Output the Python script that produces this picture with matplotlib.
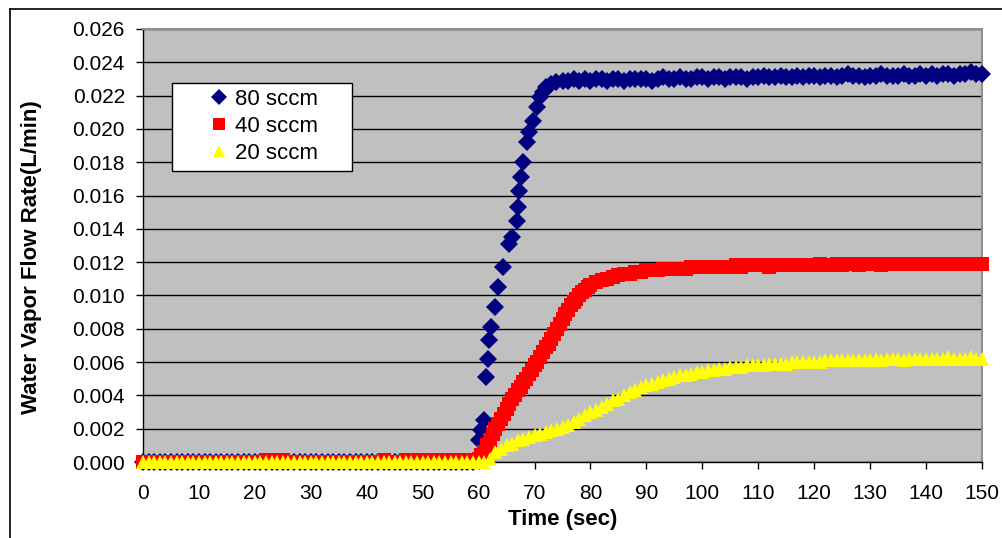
import matplotlib
matplotlib.use("Agg")
import matplotlib.pyplot as plt
from matplotlib.lines import Line2D
from matplotlib.patches import Rectangle
from matplotlib.ticker import MultipleLocator, FormatStrFormatter

plt.rcParams['font.family'] = ['Liberation Sans', 'DejaVu Sans']

# ---------------- data ----------------
labels = ["80 sccm", "40 sccm", "20 sccm"]

t_80 = [0, 1, 2, 3, 4, 5, 6, 7, 8, 9,
        10, 11, 12, 13, 14, 15, 16, 17, 18, 19,
        20, 21, 22, 23, 24, 25, 26, 27, 28, 29,
        30, 31, 32, 33, 34, 35, 36, 37, 38, 39,
        40, 41, 42, 43, 44, 45, 46, 47, 48, 49,
        50, 51, 52, 53, 54, 55, 56, 57, 58, 59,
        60.0, 60.5, 61.0, 61.3, 61.6, 61.8, 62.2, 62.9, 63.4, 64.3,
        65.5, 65.9, 66.8, 67.0, 67.3, 67.6, 67.9, 68.6, 69.1, 69.7,
        70.4, 70.9, 71.5, 72.1, 73.0, 73.9, 75.0, 76.0, 77.0,
        78, 79, 80, 81, 82, 83, 84, 85, 86, 87, 88, 89,
        90, 91, 92, 93, 94, 95, 96, 97, 98, 99,
        100, 101, 102, 103, 104, 105, 106, 107, 108, 109,
        110, 111, 112, 113, 114, 115, 116, 117, 118, 119,
        120, 121, 122, 123, 124, 125, 126, 127, 128, 129,
        130, 131, 132, 133, 134, 135, 136, 137, 138, 139,
        140, 141, 142, 143, 144, 145, 146, 147, 148, 149, 150]
v_80 = [0.0, 0.0, 0.0, 0.0, 0.0, 0.0, 0.0, 0.0, 0.0, 0.0,
        0.0, 0.0, 0.0, 0.0, 0.0, 0.0, 0.0, 0.0, 0.0, 0.0,
        0.0, 0.0, 0.0, 0.0, 0.0, 0.0, 0.0, 0.0, 0.0, 0.0,
        0.0, 0.0, 0.0, 0.0, 0.0, 0.0, 0.0, 0.0, 0.0, 0.0,
        0.0, 0.0, 0.0, 0.0, 0.0, 0.0, 0.0, 0.0, 0.0, 0.0,
        0.0, 0.0, 0.0, 0.0, 0.0, 0.0, 0.0, 0.0, 0.0, 0.0,
        0.0013, 0.0019, 0.0025, 0.0051, 0.0062, 0.0073, 0.0081, 0.0093, 0.0105, 0.0117,
        0.0131, 0.0135, 0.0145, 0.0153, 0.0163, 0.0171, 0.0180, 0.0192, 0.0198, 0.0205,
        0.0213, 0.0219, 0.0222, 0.0225, 0.0227, 0.0228, 0.0229, 0.0229, 0.0230,
        0.0229, 0.0230, 0.0229, 0.0230, 0.0230, 0.0229, 0.0230, 0.0230, 0.0229, 0.0230, 0.0230, 0.0230,
        0.0230, 0.0229, 0.0230, 0.0231, 0.0230, 0.0230, 0.0231, 0.0230, 0.0230, 0.0231,
        0.0231, 0.0230, 0.0231, 0.0231, 0.0230, 0.0231, 0.0231, 0.0231, 0.0230, 0.0231,
        0.0231, 0.0232, 0.0231, 0.0231, 0.0232, 0.0231, 0.0231, 0.0232, 0.0231, 0.0232,
        0.0232, 0.0231, 0.0232, 0.0232, 0.0231, 0.0232, 0.0233, 0.0232, 0.0232, 0.0231,
        0.0232, 0.0232, 0.0233, 0.0232, 0.0232, 0.0232, 0.0233, 0.0232, 0.0232, 0.0233,
        0.0232, 0.0233, 0.0232, 0.0233, 0.0233, 0.0232, 0.0233, 0.0233, 0.0234, 0.0233, 0.0233]

t_40 = [0, 1, 2, 3, 4, 5, 6, 7, 8, 9,
        10, 11, 12, 13, 14, 15, 16, 17, 18, 19,
        20, 21, 22, 23, 24, 25, 26, 27, 28, 29,
        30, 31, 32, 33, 34, 35, 36, 37, 38, 39,
        40, 41, 42, 43, 44, 45, 46, 47, 48, 49,
        50, 51, 52, 53, 54, 55, 56, 57, 58, 59,
        60.0, 60.5, 61.0, 61.5, 62.0, 62.5, 63.0, 63.5, 64.0, 64.5,
        65.0, 65.5, 66.0, 66.5, 67.0, 67.5, 68.0, 68.5, 69.0, 69.5,
        70.0, 70.5, 71.0, 71.5, 72.0, 72.5, 73.0, 73.5, 74.0, 74.5,
        75.0, 75.5, 76.0, 76.5, 77.0, 77.5, 78.0, 78.5, 79.0, 79.5,
        80, 81, 82, 83, 84, 85, 86, 87, 88, 89,
        90, 91, 92, 93, 94, 95, 96, 97, 98, 99,
        100, 101, 102, 103, 104, 105, 106, 107, 108, 109,
        110, 111, 112, 113, 114, 115, 116, 117, 118, 119,
        120, 121, 122, 123, 124, 125, 126, 127, 128, 129,
        130, 131, 132, 133, 134, 135, 136, 137, 138, 139,
        140, 141, 142, 143, 144, 145, 146, 147, 148, 149, 150]
v_40 = [0.0, 0.0, 0.0, 0.0, 0.0, 0.0, 0.0, 0.0, 0.0, 0.0,
        0.0, 0.0, 0.0, 0.0, 0.0, 0.0, 0.0, 0.0, 0.0, 0.0,
        0.0, 0.0, 0.0001, 0.0001, 0.0001, 0.0001, 0.0, 0.0, 0.0, 0.0,
        0.0, 0.0, 0.0, 0.0, 0.0, 0.0, 0.0, 0.0, 0.0, 0.0,
        0.0, 0.0, 0.0, 0.0001, 0.0, 0.0, 0.0, 0.0001, 0.0001, 0.0001,
        0.0001, 0.0001, 0.0001, 0.0001, 0.0001, 0.0001, 0.0001, 0.0001, 0.0001, 0.0001,
        0.0002, 0.0004, 0.0006, 0.0010, 0.0013, 0.0017, 0.0020, 0.0023, 0.0026, 0.0029,
        0.0032, 0.0035, 0.0038, 0.0040, 0.0043, 0.0045, 0.0048, 0.0050, 0.0053, 0.0055,
        0.0058, 0.0060, 0.0063, 0.0066, 0.0069, 0.0071, 0.0074, 0.0077, 0.0080, 0.0083,
        0.0086, 0.0089, 0.0091, 0.0094, 0.0096, 0.0098, 0.0100, 0.0102, 0.0103, 0.0105,
        0.0106, 0.0108, 0.0109, 0.0110, 0.0111, 0.0112, 0.0113, 0.0113, 0.0114, 0.0114,
        0.0115, 0.0115, 0.0115, 0.0116, 0.0116, 0.0116, 0.0116, 0.0116, 0.0117, 0.0117,
        0.0117, 0.0117, 0.0117, 0.0117, 0.0117, 0.0117, 0.0118, 0.0117, 0.0118, 0.0118,
        0.0118, 0.0118, 0.0117, 0.0118, 0.0118, 0.0118, 0.0118, 0.0118, 0.0118, 0.0118,
        0.0118, 0.0119, 0.0118, 0.0118, 0.0119, 0.0118, 0.0119, 0.0119, 0.0118, 0.0119,
        0.0119, 0.0119, 0.0118, 0.0119, 0.0119, 0.0119, 0.0119, 0.0119, 0.0119, 0.0119,
        0.0119, 0.0119, 0.0119, 0.0119, 0.0119, 0.0119, 0.0119, 0.0119, 0.0119, 0.0119, 0.0119]

t_20 = list(range(0, 151))
v_20 = [0.0, 0.0, 0.0, 0.0, 0.0, 0.0, 0.0, 0.0, 0.0, 0.0,
        0.0, 0.0, 0.0, 0.0, 0.0, 0.0, 0.0, 0.0, 0.0, 0.0,
        0.0, 0.0, 0.0, 0.0, 0.0, 0.0, 0.0, 0.0, 0.0, 0.0,
        0.0, 0.0, 0.0, 0.0, 0.0, 0.0, 0.0, 0.0, 0.0, 0.0,
        0.0, 0.0, 0.0, 0.0, 0.0, 0.0, 0.0, 0.0, 0.0, 0.0,
        0.0, 0.0, 0.0, 0.0, 0.0, 0.0, 0.0, 0.0, 0.0, 0.0,
        0.0, 0.0, 0.0002, 0.0006, 0.0008, 0.0010, 0.0011, 0.0013, 0.0014, 0.0015,
        0.0016, 0.0017, 0.0018, 0.0019, 0.0020, 0.0021, 0.0022, 0.0024, 0.0026, 0.0028,
        0.0030, 0.0031, 0.0033, 0.0035, 0.0037, 0.0038, 0.0040, 0.0042, 0.0043, 0.0045,
        0.0046, 0.0047, 0.0048, 0.0049, 0.0050, 0.0051, 0.0052, 0.0052, 0.0053, 0.0054,
        0.0054, 0.0055, 0.0055, 0.0056, 0.0056, 0.0057, 0.0057, 0.0057, 0.0058, 0.0058,
        0.0058, 0.0058, 0.0059, 0.0059, 0.0059, 0.0059, 0.0060, 0.0060, 0.0060, 0.0060,
        0.0060, 0.0060, 0.0061, 0.0061, 0.0061, 0.0061, 0.0061, 0.0061, 0.0061, 0.0061,
        0.0061, 0.0062, 0.0061, 0.0062, 0.0062, 0.0062, 0.0061, 0.0062, 0.0062, 0.0062,
        0.0062, 0.0062, 0.0062, 0.0062, 0.0063, 0.0062, 0.0062, 0.0062, 0.0063, 0.0062, 0.0062]

# ---------------- figure ----------------
W, H = 1002, 538
fig = plt.figure(figsize=(W / 100, H / 100), dpi=100)
fig.patch.set_facecolor("white")

L, R, T, B = 143, 982, 29, 462
ax = fig.add_axes([L / W, 1 - B / H, (R - L) / W, (B - T) / H])
ax.set_facecolor("#C0C0C0")

ax.plot(t_80, v_80, linestyle="none", marker="D", markersize=9.2,
        color="#000080", markeredgewidth=0, label=labels[0], clip_on=False, zorder=3)
ax.plot(t_40, v_40, linestyle="none", marker="s", markersize=10.3,
        color="#FF0000", markeredgewidth=0, label=labels[1], clip_on=False, zorder=4)
ax.plot(t_20, v_20, linestyle="none", marker="^", markersize=10.5,
        color="#FFFF00", markeredgewidth=0, label=labels[2], clip_on=False, zorder=5)

ax.set_xlim(0, 150)
ax.set_ylim(0, 0.026)
ax.xaxis.set_major_locator(MultipleLocator(10))
ax.yaxis.set_major_locator(MultipleLocator(0.002))
ax.yaxis.set_major_formatter(FormatStrFormatter("%.3f"))
ax.grid(axis="y", color="black", linewidth=1.0, zorder=1)
ax.set_axisbelow(True)

ax.tick_params(axis="both", direction="out", length=5, width=1, color="black",
               labelsize=15, labelcolor="black")
ax.tick_params(axis="y", pad=8)
ax.tick_params(axis="x", pad=11)

for s in ["left", "bottom"]:
    ax.spines[s].set_color("black")
    ax.spines[s].set_linewidth(1.0)
for s in ["top", "right"]:
    ax.spines[s].set_color("#909090")
    ax.spines[s].set_linewidth(1.5)

fig.text(563 / W, 1 - 520 / H, "Time (sec)", ha="center", va="center",
         fontsize=16, fontweight="bold")
fig.text(32 / W, 1 - 257 / H, "Water Vapor Flow Rate(L/min)", ha="center",
         va="center", rotation=90, fontsize=16, fontweight="bold")

# legend box
fig.patches.append(Rectangle((172 / W, 1 - 171 / H), 180 / W, 88 / H,
                             transform=fig.transFigure, facecolor="white",
                             edgecolor="black", linewidth=1.0, zorder=6))
leg = fig.legend(loc="upper left", bbox_to_anchor=(209 / W, 1 - 89 / H),
                 frameon=False, fontsize=16, handlelength=0.9, handletextpad=0.25,
                 labelspacing=0.26, borderpad=0, borderaxespad=0, markerscale=0.85)
leg.set_zorder(7)

# outer chart border (cropped at right / bottom)
fig.add_artist(Line2D([10 / W, 1.0], [1 - 9 / H, 1 - 9 / H], transform=fig.transFigure,
                      color="black", linewidth=1.2))
fig.add_artist(Line2D([10 / W, 10 / W], [0.0, 1 - 9 / H], transform=fig.transFigure,
                      color="black", linewidth=1.2))

fig.savefig("out.png", dpi=100)
